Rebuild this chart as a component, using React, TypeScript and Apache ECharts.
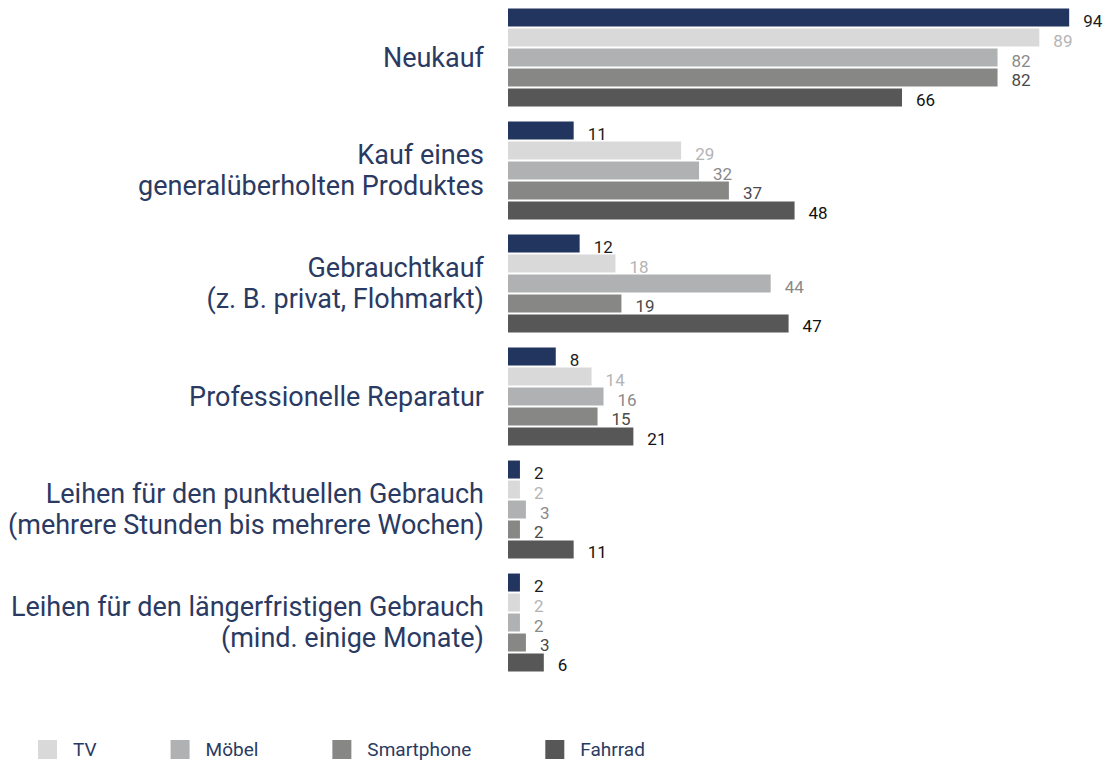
import React, { useEffect, useRef } from "react";
import * as echarts from "echarts";

const categories = [
  "Neukauf",
  "Kauf eines\ngeneralüberholten Produktes",
  "Gebrauchtkauf\n(z. B. privat, Flohmarkt)",
  "Professionelle Reparatur",
  "Leihen für den punktuellen Gebrauch\n(mehrere Stunden bis mehrere Wochen)",
  "Leihen für den längerfristigen Gebrauch\n(mind. einige Monate)",
];

const seriesNames = ["Gesamt", "TV", "Möbel", "Smartphone", "Fahrrad"];
const legendNames = ["TV", "Möbel", "Smartphone", "Fahrrad"];

const gesamtValues = [94, 11, 12, 8, 2, 2];
const tvValues = [89, 29, 18, 14, 2, 2];
const moebelValues = [82, 32, 44, 16, 3, 2];
const smartphoneValues = [82, 37, 19, 15, 2, 3];
const fahrradValues = [66, 48, 47, 21, 11, 6];

const allValues = [gesamtValues, tvValues, moebelValues, smartphoneValues, fahrradValues];
const barColors = ["#22355e", "#d9d9d9", "#b0b1b2", "#878786", "#575757"];
const labelColors = ["#1c1c1c", "#b4b4b4", "#8a8a8a", "#4a4a4a", "#111111"];

export default function App() {
  const ref = useRef<HTMLDivElement>(null);

  useEffect(() => {
    if (!ref.current) return;
    const chart = echarts.init(ref.current, undefined, { renderer: "svg" });
    chart.setOption({
      animation: false,
      textStyle: { fontFamily: "Roboto" },
      legend: {
        data: legendNames,
        left: 38,
        top: 740,
        padding: 0,
        itemWidth: 19,
        itemHeight: 19,
        itemGap: 74,
        icon: "rect",
        textStyle: {
          color: "#2a3a62",
          fontSize: 19,
          fontFamily: "Roboto",
          padding: [5, 0, 0, 11],
        },
      },
      grid: { left: 508, right: 6, top: 1, height: 678, containLabel: false },
      xAxis: {
        type: "value",
        min: 0,
        max: 100,
        show: false,
      },
      yAxis: {
        type: "category",
        data: categories,
        inverse: true,
        axisLine: { show: false },
        axisTick: { show: false },
        splitLine: { show: false },
        axisLabel: {
          color: "#2a3a62",
          fontSize: 27,
          lineHeight: 31,
          fontFamily: "Roboto",
          margin: 24,
          align: "right",
        },
      },
      series: allValues.map((vals, i) => ({
        name: seriesNames[i],
        type: "bar",
        data: vals,
        barWidth: 18,
        barGap: "11%",
        itemStyle: { color: barColors[i] },
        label: {
          show: true,
          position: "right",
          distance: 14,
          offset: [0, 3],
          color: labelColors[i],
          fontSize: 17,
          fontWeight: "normal",
          fontFamily: "Roboto",
        },
      })),
    });
    return () => chart.dispose();
  }, []);

  return (
    <div
      ref={ref}
      style={{ position: "fixed", left: 0, top: 0, width: 1111, height: 761, background: "#fff" }}
    />
  );
}
